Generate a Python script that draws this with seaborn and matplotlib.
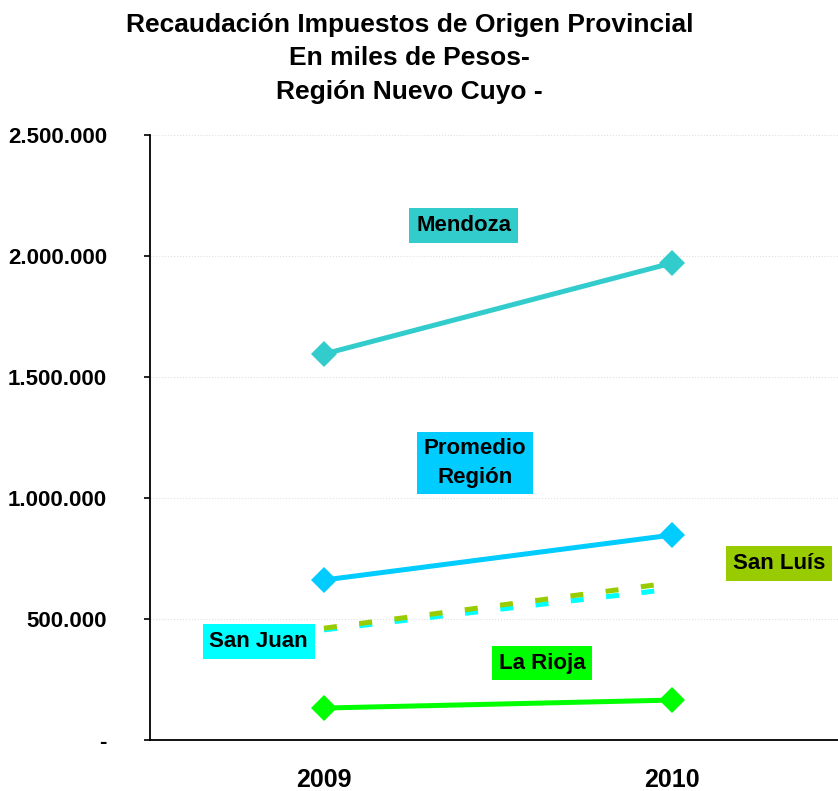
# Recaudacion de impuestos provinciales - Region Nuevo Cuyo
import matplotlib
matplotlib.use('Agg')
import matplotlib.pyplot as plt
import seaborn as sns

years = ['2009', '2010']
mendoza = [1595000, 1971000]
promedio = [661000, 847000]
san_luis = [462000, 650000]
san_juan = [455000, 624000]
la_rioja = [132000, 165000]

sns.set_style('white')
plt.rcParams['font.family'] = ['Liberation Sans', 'DejaVu Sans']
plt.rcParams['text.color'] = 'black'
plt.rcParams['xtick.color'] = 'black'
plt.rcParams['ytick.color'] = 'black'

fig = plt.figure(figsize=(8.38, 7.91), dpi=100)
ax = fig.add_axes([150 / 838, 51 / 791, 1 - 150 / 838, (740 - 135) / 791])

x = [0, 1]
lw = 3.6
sns.lineplot(x=x, y=san_juan, ax=ax, color='#00FFFF', lw=lw)
sns.lineplot(x=x, y=san_luis, ax=ax, color='#99CC00', lw=lw)
sns.lineplot(x=x, y=la_rioja, ax=ax, color='#00FF00', lw=lw,
             marker='D', markersize=13, markeredgewidth=0)
sns.lineplot(x=x, y=promedio, ax=ax, color='#00CCFF', lw=lw,
             marker='D', markersize=13, markeredgewidth=0)
sns.lineplot(x=x, y=mendoza, ax=ax, color='#33CCCC', lw=lw,
             marker='D', markersize=13, markeredgewidth=0)
for ln in ax.lines[:2]:
    ln.set_dashes((2.6, 4.5))
    ln.set_solid_capstyle('butt')

ax.set_xlim(-0.5, 1.5 - 8 / 348)
ax.set_ylim(0, 2500000)
ax.set_xticks([-0.5, 0.5])
ax.set_xticklabels([])
ax.set_xticks(x, minor=True)
ax.set_xticklabels(years, minor=True, fontsize=18, fontweight='bold')
ax.tick_params(axis='x', which='major', direction='out', length=7, width=1.2)
ax.tick_params(axis='x', which='minor', length=0, pad=20)

yticks = [0, 500000, 1000000, 1500000, 2000000, 2500000]
ylabels = ['-', '500.000', '1.000.000', '1.500.000', '2.000.000', '2.500.000']
ax.set_yticks(yticks)
ax.set_yticklabels(ylabels, fontsize=16, fontweight='bold')
ax.tick_params(axis='y', direction='out', length=4, width=1.2, pad=27, left=True)

ax.grid(axis='y', color='#E0E0E0', lw=0.8, ls=':')
ax.spines['top'].set_visible(False)
ax.spines['right'].set_visible(False)
ax.spines['left'].set_color('black')
ax.spines['bottom'].set_color('black')
ax.spines['left'].set_linewidth(1.3)
ax.spines['bottom'].set_linewidth(1.3)


def tag(xv, yv, text, color):
    ax.text(xv, yv, text, ha='center', va='center', fontsize=16,
            fontweight='bold', color='black', linespacing=1.45,
            bbox=dict(boxstyle='square,pad=0.3', fc=color, ec='none'))


tag(0.401, 2126000, 'Mendoza', '#33CCCC')
tag(0.434, 1145000, 'Promedio\nRegión', '#00CCFF')
tag(1.307, 729000, 'San Luís', '#99CC00')
tag(-0.188, 407000, 'San Juan', '#00FFFF')
tag(0.626, 318000, 'La Rioja', '#00FF00')

fig.text(0.489, 0.984,
         'Recaudación Impuestos de Origen Provincial\nEn miles de Pesos-\nRegión Nuevo Cuyo -',
         ha='center', va='top', fontsize=19, fontweight='bold', linespacing=1.5)

fig.savefig('out.png', dpi=100)
